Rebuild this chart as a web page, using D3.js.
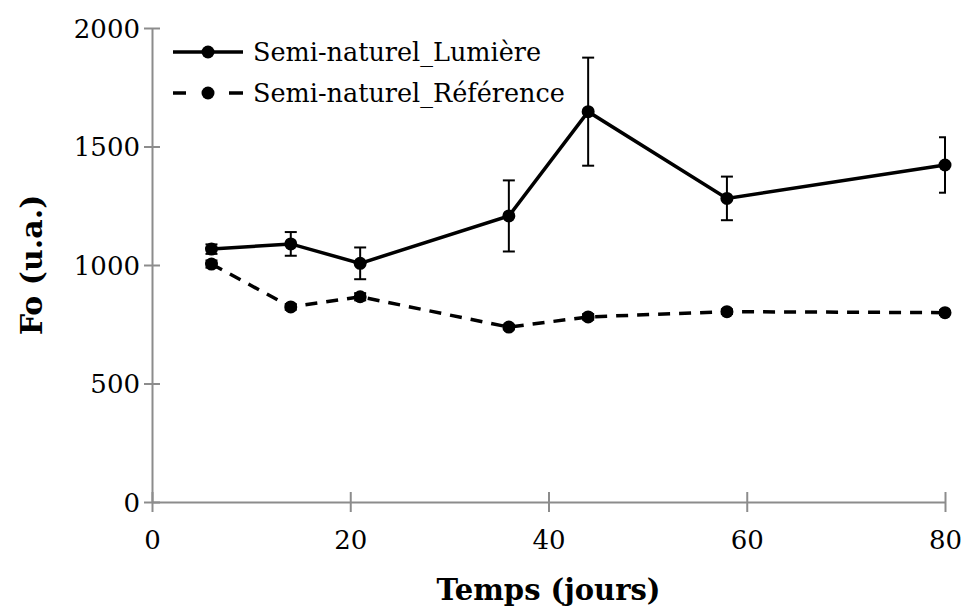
<!DOCTYPE html>
<html>
<head>
<meta charset="utf-8">
<script src="https://cdn.jsdelivr.net/npm/d3@7"></script>
<style>
  html, body { margin: 0; padding: 0; background: #fff; }
  svg { display: block; }
</style>
</head>
<body>
<svg id="chart" width="963" height="608"></svg>
<script>
// ---- Data ----
const days = [6, 14, 21, 36, 44, 58, 80];
const lumiere = [1067, 1089, 1007, 1207, 1647, 1281, 1422];
const lumiereErr = [20, 50, 67, 150, 228, 92, 117];
const reference = [1004, 823, 866, 738, 781, 803, 799];
const referenceErr = [15, 12, 15, 10, 12, 10, 10];
const seriesNames = ["Semi-naturel_Lumière", "Semi-naturel_Référence"];
const xTicks = [0, 20, 40, 60, 80];
const yTicks = [0, 500, 1000, 1500, 2000];
const xTitle = "Temps (jours)";
const yTitle = "Fo (u.a.)";

// ---- Layout ----
const W = 963, H = 608;
const margin = { left: 152, right: 18, top: 28, bottom: 106 };
const svg = d3.select("#chart");
const FONT = "'DejaVu Serif', 'Liberation Serif', serif";
const AXIS_COLOR = "#8c8c8c";

const x = d3.scaleLinear().domain([0, 80]).range([margin.left, W - margin.right]);
const y = d3.scaleLinear().domain([0, 2000]).range([H - margin.bottom, margin.top]);

// clip for error bars (plot area)
svg.append("defs").append("clipPath").attr("id", "plotClip")
  .append("rect")
  .attr("x", x(0)).attr("y", 0)
  .attr("width", x(80) - x(0) + 1).attr("height", H);

// ---- Axes ----
const xAxis = d3.axisBottom(x).tickValues(xTicks).tickSize(0).tickFormat(d3.format("d"));
const gx = svg.append("g").attr("transform", `translate(0,${y(0)})`).call(xAxis);
gx.select(".domain").attr("stroke", AXIS_COLOR).attr("stroke-width", 2);
gx.selectAll(".tick line").remove();
gx.selectAll(".tick").append("line")
  .attr("y1", -10).attr("y2", 10)
  .attr("stroke", AXIS_COLOR).attr("stroke-width", 2);
gx.selectAll(".tick text")
  .attr("y", 47).attr("dy", "0")
  .attr("font-family", FONT).attr("font-size", 26).attr("fill", "#000");

const yAxis = d3.axisLeft(y).tickValues(yTicks).tickSize(0).tickFormat(d3.format("d"));
const gy = svg.append("g").attr("transform", `translate(${x(0)},0)`).call(yAxis);
gy.select(".domain").attr("stroke", AXIS_COLOR).attr("stroke-width", 2);
gy.selectAll(".tick line").remove();
gy.selectAll(".tick").append("line")
  .attr("x1", -8).attr("x2", 8)
  .attr("stroke", AXIS_COLOR).attr("stroke-width", 2);
gy.selectAll(".tick text")
  .attr("x", -12).attr("dy", "0.35em")
  .attr("font-family", FONT).attr("font-size", 26).attr("fill", "#000");

// axis titles
svg.append("text")
  .attr("x", (x(0) + x(80)) / 2).attr("y", 600)
  .attr("text-anchor", "middle")
  .attr("font-family", FONT).attr("font-weight", "bold").attr("font-size", 29)
  .text(xTitle);
svg.append("text")
  .attr("transform", `translate(42,${(y(0) + y(2000)) / 2}) rotate(-90)`)
  .attr("text-anchor", "middle")
  .attr("font-family", FONT).attr("font-weight", "bold").attr("font-size", 30)
  .text(yTitle);

// ---- Series ----
const series = [
  { name: seriesNames[0], vals: lumiere, err: lumiereErr, dash: null },
  { name: seriesNames[1], vals: reference, err: referenceErr, dash: "12,9" }
];

const line = d3.line().x(d => x(d.x)).y(d => y(d.y));

series.forEach(s => {
  const pts = days.map((d, i) => ({ x: d, y: s.vals[i], e: s.err[i] }));
  const g = svg.append("g");
  // error bars
  const eb = g.append("g").attr("clip-path", "url(#plotClip)");
  pts.forEach(p => {
    eb.append("line")
      .attr("x1", x(p.x)).attr("x2", x(p.x))
      .attr("y1", y(p.y - p.e)).attr("y2", y(p.y + p.e))
      .attr("stroke", "#000").attr("stroke-width", 2);
    [p.y - p.e, p.y + p.e].forEach(v => {
      eb.append("line")
        .attr("x1", x(p.x) - 6).attr("x2", x(p.x) + 6)
        .attr("y1", y(v)).attr("y2", y(v))
        .attr("stroke", "#000").attr("stroke-width", 2);
    });
  });
  g.append("path")
    .datum(pts)
    .attr("d", line)
    .attr("fill", "none")
    .attr("stroke", "#000")
    .attr("stroke-width", 3.5)
    .attr("stroke-dasharray", s.dash);
  g.selectAll("circle").data(pts).join("circle")
    .attr("cx", d => x(d.x)).attr("cy", d => y(d.y))
    .attr("r", 6.5).attr("fill", "#000");
});

// ---- Legend ----
const legY = [52, 93];
series.forEach((s, i) => {
  const lg = svg.append("g").attr("transform", `translate(0,${legY[i]})`);
  lg.append("line")
    .attr("x1", 173).attr("x2", 243).attr("y1", 0).attr("y2", 0)
    .attr("stroke", "#000").attr("stroke-width", 3.5)
    .attr("stroke-dasharray", s.dash ? "13,43,14" : null);
  lg.append("circle").attr("cx", 208).attr("cy", 0).attr("r", 6.5).attr("fill", "#000");
  lg.append("text")
    .attr("x", 253).attr("y", 0).attr("dy", "0.35em")
    .attr("font-family", FONT).attr("font-size", 25.5).attr("fill", "#000")
    .text(s.name);
});
</script>
</body>
</html>
